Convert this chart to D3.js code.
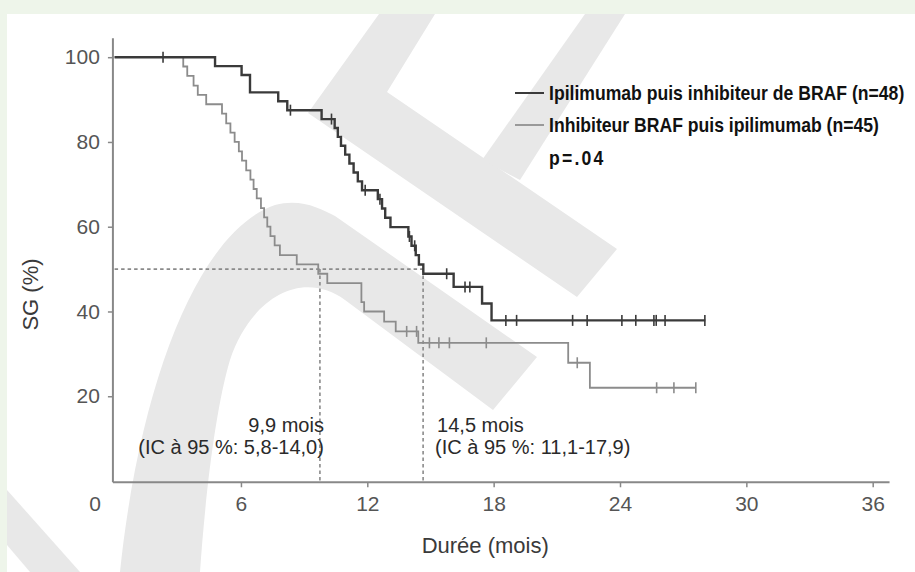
<!DOCTYPE html>
<html lang="fr">
<head>
<meta charset="UTF-8">
<title>Survie globale</title>
<script src="https://d3js.org/d3.v7.min.js"></script>
<style>
  body { margin: 0; background: #fff; }
  svg { display: block; }
  .tick text { font-family: "Liberation Sans", Arial, sans-serif; font-size: 21px; fill: #555; }
  .title { font-family: "Liberation Sans", Arial, sans-serif; font-size: 22px; fill: #3a3a3a; }
  .note { font-family: "Liberation Sans", Arial, sans-serif; font-size: 20px; fill: #2a2a2a; }
  .legend { font-family: "Liberation Sans", Arial, sans-serif; font-weight: bold; font-size: 20px; fill: #111; }
</style>
</head>
<body>
<svg id="chart" width="915" height="572"></svg>
<script>
// axes
const xTicks = [0, 6, 12, 18, 24, 30, 36];
const yTicks = [20, 40, 60, 80, 100];

// Ipilimumab puis inhibiteur de BRAF: [mois, SG %]
const ipiSteps = [
  [0, 100], [4.77, 97.9], [6.03, 95.8], [6.43, 91.7], [7.77, 89.6], [8.2, 87.5],
  [9.83, 85.4], [10.45, 83.3], [10.6, 81.2], [10.75, 79.1], [10.95, 77.0],
  [11.15, 74.9], [11.35, 72.8], [11.55, 70.7], [11.75, 68.6], [12.5, 66.5],
  [12.7, 64.3], [12.85, 62.1], [13.1, 59.9], [13.95, 57.7], [14.1, 55.5],
  [14.3, 53.3], [14.45, 51.1], [14.66, 48.9], [16.1, 45.8], [17.45, 41.9],
  [17.9, 37.9]
];
const ipiEnd = 28.05;
const ipiCensor = [2.3, 8.35, 10.3, 11.9, 12.6, 14.0, 14.25, 15.77, 16.64, 16.87,
  18.58, 19.09, 21.75, 22.44, 24.09, 24.75, 25.61, 25.72, 26.14, 28.03];

// Inhibiteur BRAF puis ipilimumab
const brafSteps = [
  [0, 100], [3.26, 97.8], [3.45, 95.6], [3.75, 93.3], [3.95, 91.1], [4.35, 88.9],
  [5.1, 86.7], [5.3, 84.4], [5.5, 82.2], [5.7, 80.0], [5.9, 77.8], [6.05, 75.6],
  [6.25, 73.3], [6.45, 71.1], [6.6, 68.9], [6.75, 66.7], [6.95, 64.4], [7.1, 62.2],
  [7.25, 60.0], [7.4, 57.8], [7.6, 55.6], [7.85, 53.3], [8.65, 51.1], [9.67, 48.9],
  [10.1, 46.7], [11.72, 42.2], [11.85, 40.0], [12.8, 37.6], [13.35, 35.3],
  [14.42, 32.6], [21.54, 27.9], [22.57, 22.0]
];
const brafEnd = 27.6;
const brafCensor = [13.87, 14.34, 14.95, 15.4, 15.9, 17.65, 21.97, 25.74, 26.56, 27.6];

// médianes
const medians = [
  { t: 9.75, label: "9,9 mois", ci: "(IC à 95 %: 5,8-14,0)", side: "left" },
  { t: 14.65, label: "14,5 mois", ci: "(IC à 95 %: 11,1-17,9)", side: "right" }
];

const legendItems = [
  { text: "Ipilimumab puis inhibiteur de BRAF (n=48)", color: "#3a3a3a" },
  { text: "Inhibiteur BRAF puis ipilimumab (n=45)", color: "#999" }
];
const pValue = "p=.04";

const svg = d3.select("#chart");

// fond et filigrane
svg.append("rect").attr("width", 915).attr("height", 572).attr("fill", "#eef5ea");
svg.append("rect").attr("x", 7).attr("y", 14).attr("width", 908).attr("height", 558).attr("fill", "#fff");

const wm = svg.append("g").attr("fill", "#e8e8e8");
wm.append("path").attr("d", "M379,14 L435,14 L387,92 L617,249 L577,297 L308,113 Z");
wm.append("path").attr("d", "M585,14 L625,14 L520,180 L482,160 Z");
wm.append("path").attr("d", "M120,572 C140,380 200,230 275,205 C300,198 320,208 335,216 L537,357 L493,410 L345,300 C300,268 250,300 230,360 C215,410 205,500 200,572 Z");
wm.append("path").attr("d", "M7,490 L7,545 L30,572 L80,572 Z");

const x = d3.scaleLinear().domain([0, 36]).range([114.6, 872.7]);
const y = d3.scaleLinear().domain([0, 100]).range([481, 57.2]);

// axes
const axisColor = "#888";
svg.append("line")
  .attr("x1", x(-0.08)).attr("x2", x(-0.08))
  .attr("y1", y(104.5)).attr("y2", y(-0.3))
  .attr("stroke", axisColor).attr("stroke-width", 2);
svg.append("line")
  .attr("x1", x(-0.08)).attr("x2", x(36.8))
  .attr("y1", y(-0.3)).attr("y2", y(-0.3))
  .attr("stroke", axisColor).attr("stroke-width", 2);

const yAxis = svg.append("g")
  .attr("transform", `translate(${x(-0.08)},0)`)
  .call(d3.axisLeft(y).tickValues(yTicks).tickSize(5).tickPadding(8));
yAxis.select(".domain").remove();

const xAxis = svg.append("g")
  .attr("transform", `translate(0,${y(-0.3)})`)
  .call(d3.axisBottom(x).tickValues(xTicks).tickSize(5).tickPadding(9));
xAxis.select(".domain").remove();
xAxis.selectAll(".tick").filter(d => d === 0).select("line").remove();
xAxis.selectAll(".tick").filter(d => d === 0).select("text").attr("dx", -20);

svg.selectAll(".tick line").attr("stroke", axisColor).attr("stroke-width", 1.5);

svg.append("text").attr("class", "title")
  .attr("transform", `translate(38,${y(44)}) rotate(-90)`)
  .attr("text-anchor", "middle")
  .text("SG (%)");
svg.append("text").attr("class", "title")
  .attr("x", x(17.6)).attr("y", 553)
  .attr("text-anchor", "middle")
  .text("Durée (mois)");

// lignes des médianes
const dash = svg.append("g").attr("stroke", "#8a8a8a").attr("stroke-width", 1.6)
  .attr("stroke-dasharray", "3.5,3").attr("fill", "none");
dash.append("line")
  .attr("x1", x(0)).attr("x2", x(d3.max(medians, d => d.t)))
  .attr("y1", y(50)).attr("y2", y(50));
dash.selectAll(".vm").data(medians).join("line")
  .attr("x1", d => x(d.t)).attr("x2", d => x(d.t))
  .attr("y1", y(50)).attr("y2", y(0));

// annotations
medians.forEach(m => {
  const tx = m.side === "left" ? x(m.t) + 4 : x(m.t) + 14;
  const anchor = m.side === "left" ? "end" : "start";
  svg.append("text").attr("class", "note").attr("x", tx).attr("y", 432)
    .attr("text-anchor", anchor).text(m.label);
  svg.append("text").attr("class", "note").attr("x", m.side === "left" ? tx : tx - 2).attr("y", 454)
    .attr("text-anchor", anchor).text(m.ci);
});

// courbes de Kaplan-Meier
const line = d3.line().x(d => x(d[0])).y(d => y(d[1])).curve(d3.curveStepAfter);
function survAt(steps, t) {
  let v = steps[0][1];
  steps.forEach(s => { if (s[0] <= t) v = s[1]; });
  return v;
}
function drawCurve(steps, end, censor, color, width) {
  const pts = steps.concat([[end, steps[steps.length - 1][1]]]);
  svg.append("path").attr("d", line(pts))
    .attr("fill", "none").attr("stroke", color).attr("stroke-width", width);
  svg.append("g").selectAll("line").data(censor).join("line")
    .attr("x1", d => x(d)).attr("x2", d => x(d))
    .attr("y1", d => y(survAt(steps, d)) - 5.5).attr("y2", d => y(survAt(steps, d)) + 5.5)
    .attr("stroke", color).attr("stroke-width", 1.6);
}
drawCurve(brafSteps, brafEnd, brafCensor, "#8c8c8c", 1.8);
drawCurve(ipiSteps, ipiEnd, ipiCensor, "#3a3a3a", 2.4);

// légende (police condensée simulée par un étirement horizontal)
const lg = svg.append("g");
legendItems.forEach((d, i) => {
  const cy = 93 + i * 32;
  lg.append("line").attr("x1", 515).attr("x2", 544).attr("y1", cy).attr("y2", cy)
    .attr("stroke", d.color).attr("stroke-width", 2);
  lg.append("text").attr("class", "legend")
    .attr("transform", `translate(549,${cy + 7}) scale(0.88,1)`)
    .text(d.text);
});
lg.append("text").attr("class", "legend")
  .attr("transform", "translate(549,165) scale(0.88,1)")
  .attr("letter-spacing", 2.5)
  .text(pValue);
</script>
</body>
</html>
